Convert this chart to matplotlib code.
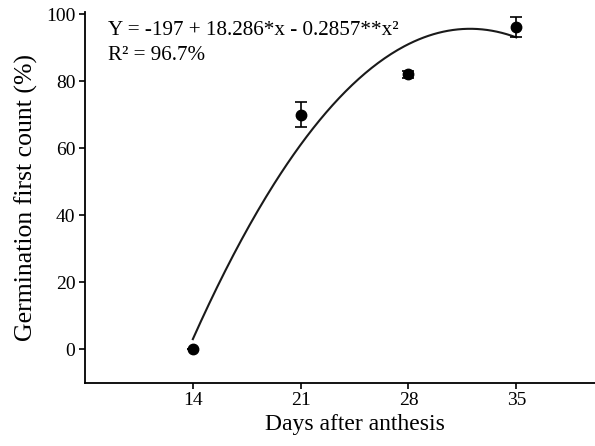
import numpy as np
import matplotlib.pyplot as plt

plt.rcParams['font.family'] = ['Liberation Serif', 'DejaVu Serif']

days = [14, 21, 28, 35]
germination = [0, 70, 82, 96]
errors = [0, 3.7, 1.0, 3.0]
xticks = [14, 21, 28, 35]
yticks = [0, 20, 40, 60, 80, 100]

# fitted quadratic from the annotation
b0, b1, b2 = -197, 18.286, -0.2857

fig = plt.figure(figsize=(5.95, 4.46), dpi=100)
ax = fig.add_axes([0.1429, 0.1419, 0.906, 0.8319])

x = np.linspace(14, 35, 200)
ax.plot(x, b0 + b1 * x + b2 * x**2, color='#1a1a1a', lw=1.5)
ax.errorbar(days, germination, yerr=errors, fmt='o', color='black',
            markersize=7.5, capsize=4, elinewidth=1.2, capthick=1.2)

ax.set_xlim(7, 42)
ax.set_ylim(-10, 100.7)
ax.set_xticks(xticks)
ax.set_yticks(yticks)

for s in ['top', 'right']:
    ax.spines[s].set_visible(False)
for s in ['left', 'bottom']:
    ax.spines[s].set_linewidth(1.3)
ax.tick_params(labelsize=14, length=4, width=1.2, colors='black', pad=3)

ax.set_xlabel('Days after anthesis', fontsize=17, labelpad=3)
ax.set_ylabel('Germination first count (%)', fontsize=18.5, labelpad=6)

ax.text(0.042, 0.937, 'Y = -197 + 18.286*x - 0.2857**x²', transform=ax.transAxes,
        fontsize=15.2, va='baseline', ha='left')
ax.text(0.042, 0.870, 'R² = 96.7%', transform=ax.transAxes,
        fontsize=15.2, va='baseline', ha='left')

plt.savefig('out.png', dpi=100)
